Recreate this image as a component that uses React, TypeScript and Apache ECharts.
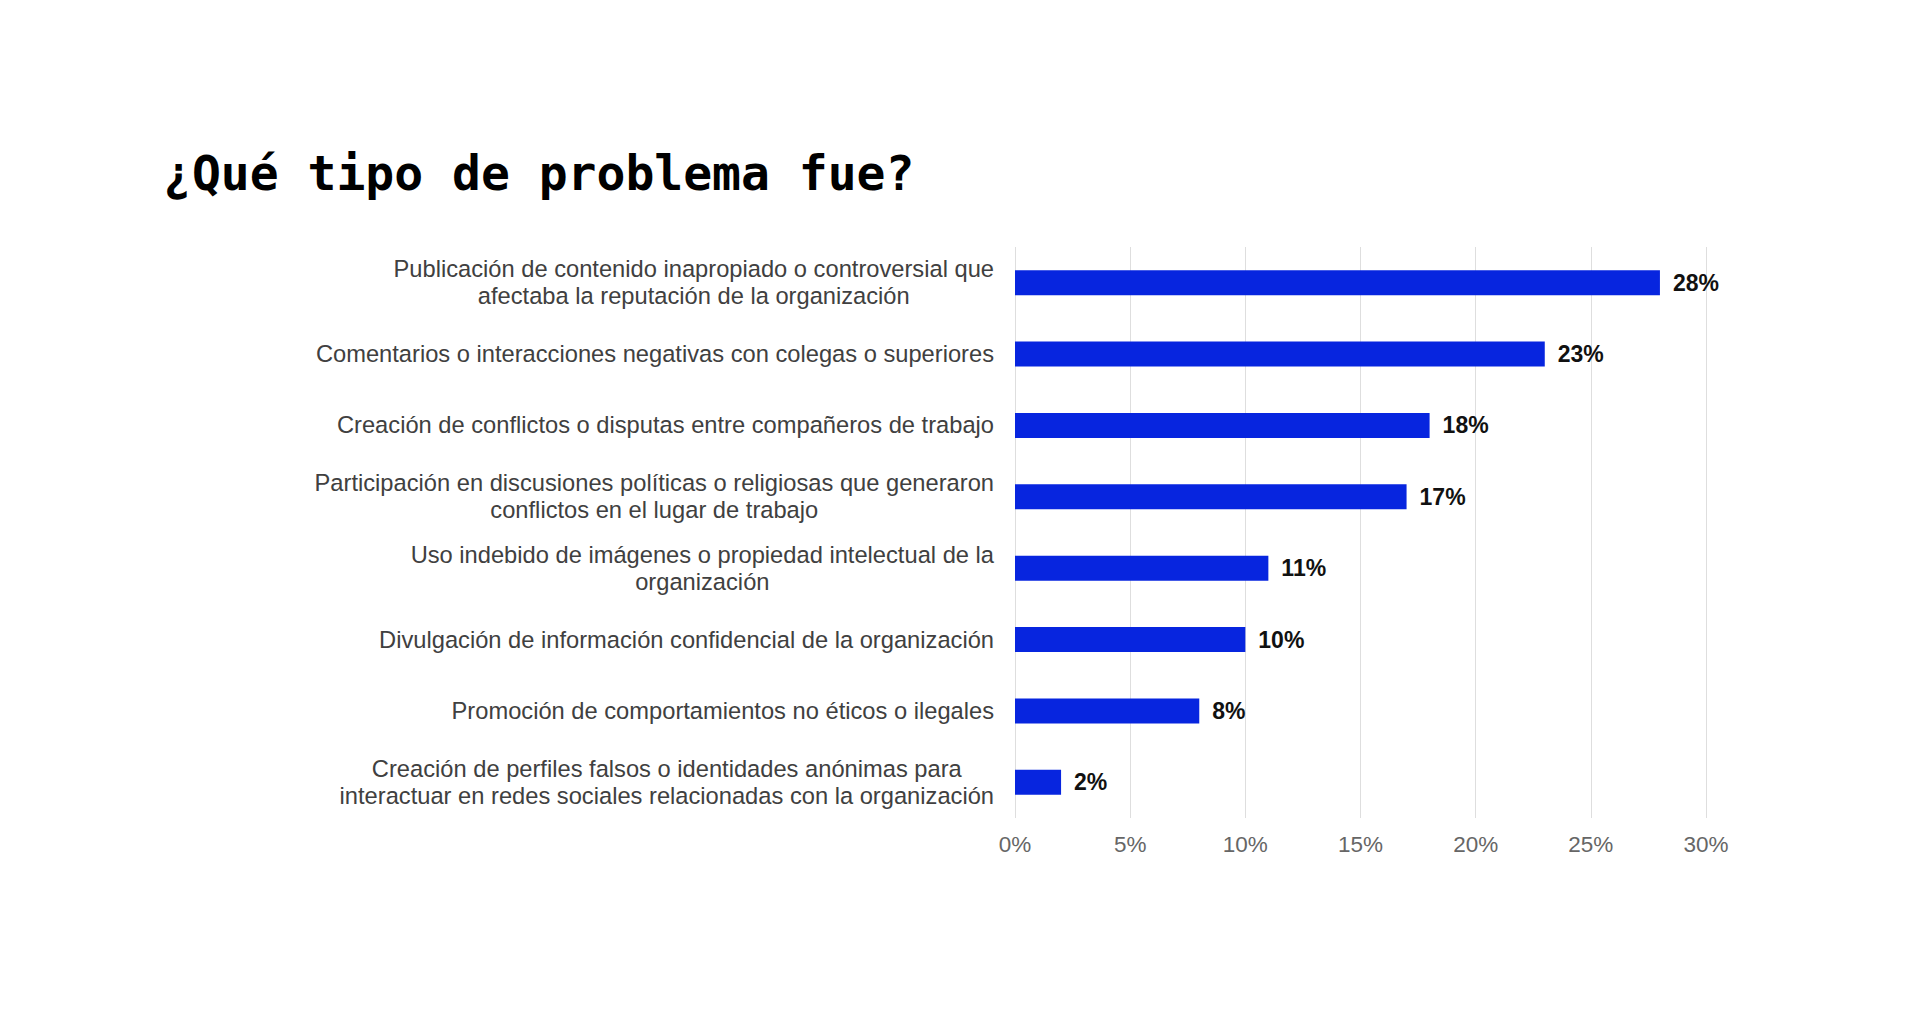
import React, { useEffect, useRef } from "react";
import * as echarts from "echarts";

const titleText = "¿Qué tipo de problema fue?";

const categories: string[][] = [
  ["Publicación de contenido inapropiado o controversial que", "afectaba la reputación de la organización"],
  ["Comentarios o interacciones negativas con colegas o superiores"],
  ["Creación de conflictos o disputas entre compañeros de trabajo"],
  ["Participación en discusiones políticas o religiosas que generaron", "conflictos en el lugar de trabajo"],
  ["Uso indebido de imágenes o propiedad intelectual de la", "organización"],
  ["Divulgación de información confidencial de la organización"],
  ["Promoción de comportamientos no éticos o ilegales"],
  ["Creación de perfiles falsos o identidades anónimas para", "interactuar en redes sociales relacionadas con la organización"],
];

const values = [28, 23, 18, 17, 11, 10, 8, 2];

const xTicks = [0, 5, 10, 15, 20, 25, 30];

export default function App() {
  const ref = useRef<HTMLDivElement>(null);
  useEffect(() => {
    if (!ref.current) return;
    const chart = echarts.init(ref.current, undefined, { renderer: "svg" });
    const catNames = categories.map((lines) => lines.join("\n"));
    const font = "Arial, 'Liberation Sans', sans-serif";
    chart.setOption({
      animation: false,
      backgroundColor: "#ffffff",
      title: {
        text: titleText,
        left: 150,
        top: 136,
        textStyle: {
          fontFamily: "DejaVu Sans Mono",
          fontWeight: "bold",
          fontSize: 48,
          color: "#000000",
        },
      },
      grid: { left: 1007, right: 206, top: 239, bottom: 188, containLabel: false },
      xAxis: {
        type: "value",
        min: xTicks[0],
        max: xTicks[xTicks.length - 1],
        interval: 5,
        axisLine: { show: false },
        axisTick: { show: false },
        splitLine: { show: true, lineStyle: { color: "#dedede", width: 1 } },
        axisLabel: {
          formatter: "{value}%",
          color: "#666666",
          fontSize: 22.5,
          fontFamily: font,
          margin: 15,
        },
      },
      yAxis: {
        type: "category",
        data: catNames,
        inverse: true,
        axisLine: { show: false },
        axisTick: { show: false },
        splitLine: { show: false },
        axisLabel: {
          margin: 21,
          align: "right",
          color: "#404040",
          fontSize: 23.7,
          lineHeight: 27,
          fontFamily: font,
          formatter: (v: string) =>
            v
              .split("\n")
              .map((l) => "{c|" + l + "}")
              .join("\n"),
          rich: {
            c: {
              align: "center",
              color: "#404040",
              fontSize: 23.7,
              lineHeight: 27,
              fontFamily: font,
            },
          },
        },
      },
      series: [
        {
          type: "bar",
          data: values,
          barWidth: 25,
          itemStyle: { color: "#0725DF" },
          label: {
            show: true,
            position: "right",
            distance: 13,
            formatter: "{c}%",
            color: "#111111",
            fontWeight: "bold",
            fontSize: 23,
            fontFamily: font,
          },
        },
      ],
    });
    return () => chart.dispose();
  }, []);
  return <div ref={ref} style={{ width: 1904, height: 998 }} />;
}
